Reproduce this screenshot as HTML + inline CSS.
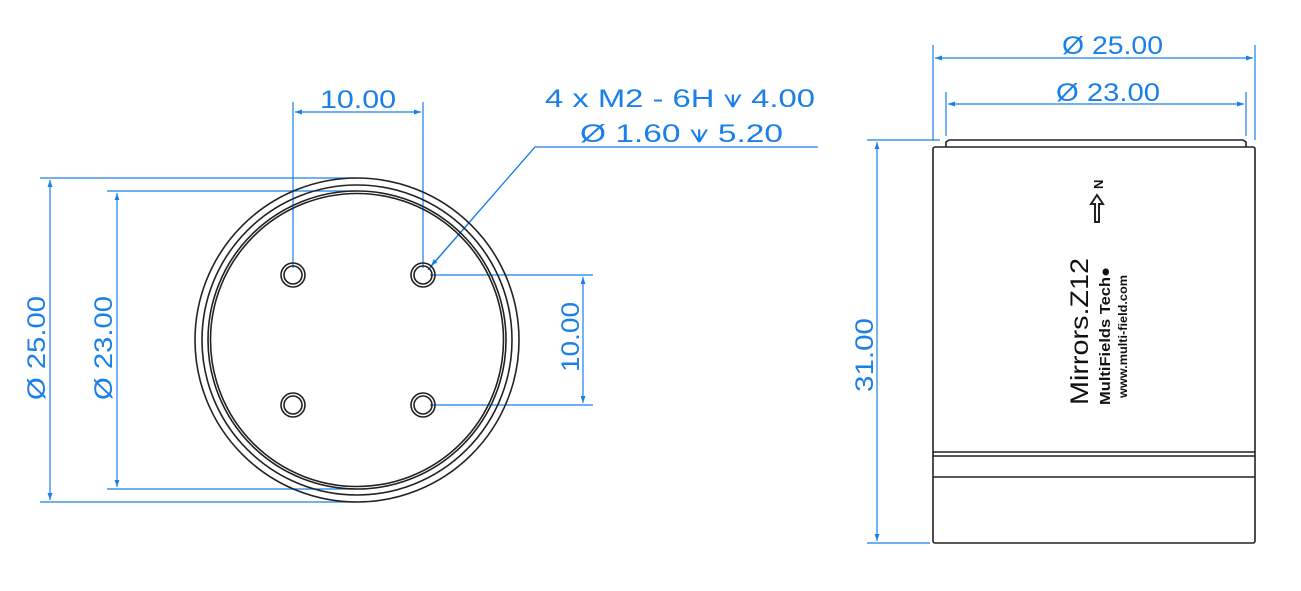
<!DOCTYPE html>
<html><head><style>body{margin:0;background:#fff}svg{display:block}</style></head><body>
<svg width="1301" height="591" viewBox="0 0 1301 591" font-family="Liberation Sans, sans-serif">
<defs>
<marker id="a" viewBox="0 0 10 10" refX="10" refY="5" markerWidth="12" markerHeight="7" orient="auto-start-reverse" markerUnits="userSpaceOnUse"><path d="M0,1.5L10,5L0,8.5z" fill="#1a7fe8"/></marker>
</defs>
<g fill="none" stroke="#1a7fe8" stroke-width="1.2">
<line x1="40" y1="178" x2="357" y2="178"/><line x1="40" y1="502" x2="357" y2="502"/>
<line x1="50" y1="180" x2="50" y2="500" marker-start="url(#a)" marker-end="url(#a)"/>
<line x1="107" y1="191" x2="357" y2="191"/><line x1="107" y1="489" x2="357" y2="489"/>
<line x1="117" y1="193" x2="117" y2="487" marker-start="url(#a)" marker-end="url(#a)"/>
<line x1="293" y1="102" x2="293" y2="268"/><line x1="423" y1="102" x2="423" y2="268"/>
<line x1="295" y1="112" x2="421" y2="112" marker-start="url(#a)" marker-end="url(#a)"/>
<line x1="430" y1="275" x2="593" y2="275"/><line x1="430" y1="405" x2="593" y2="405"/>
<line x1="583" y1="277" x2="583" y2="403" marker-start="url(#a)" marker-end="url(#a)"/>
<polyline points="818,147 535,147 428,270"/>
<line x1="535" y1="147" x2="431" y2="266" marker-end="url(#a)"/>
<line x1="933" y1="45" x2="933" y2="140"/><line x1="1255" y1="45" x2="1255" y2="140"/>
<line x1="935" y1="58" x2="1253" y2="58" marker-start="url(#a)" marker-end="url(#a)"/>
<line x1="946" y1="92" x2="946" y2="136"/><line x1="1246" y1="92" x2="1246" y2="136"/>
<line x1="948" y1="104" x2="1244" y2="104" marker-start="url(#a)" marker-end="url(#a)"/>
<line x1="867" y1="140" x2="940" y2="140"/><line x1="867" y1="543" x2="930" y2="543"/>
<line x1="877" y1="142" x2="877" y2="541" marker-start="url(#a)" marker-end="url(#a)"/>
</g>
<g fill="#1a7fe8" font-size="25">
<text x="320" y="108" textLength="76" lengthAdjust="spacingAndGlyphs">10.00</text>
<text x="1062" y="54" textLength="101" lengthAdjust="spacingAndGlyphs">Ø 25.00</text>
<text x="1056" y="101" textLength="104" lengthAdjust="spacingAndGlyphs">Ø 23.00</text>
<text x="545" y="107" textLength="270" lengthAdjust="spacingAndGlyphs">4 x  M2 - 6H ⩛ 4.00</text>
<text x="580" y="142" textLength="203" lengthAdjust="spacingAndGlyphs">Ø  1.60 ⩛ 5.20</text>
<text transform="translate(45,400) rotate(-90)" textLength="104" lengthAdjust="spacingAndGlyphs">Ø 25.00</text>
<text transform="translate(112,400) rotate(-90)" textLength="104" lengthAdjust="spacingAndGlyphs">Ø 23.00</text>
<text transform="translate(579,372) rotate(-90)" textLength="70" lengthAdjust="spacingAndGlyphs">10.00</text>
<text transform="translate(873,392) rotate(-90)" textLength="74" lengthAdjust="spacingAndGlyphs">31.00</text>
</g>
<g fill="none" stroke="#222" stroke-width="1.6">
<circle cx="357" cy="340" r="162"/><circle cx="357" cy="340" r="155"/>
<circle cx="357" cy="340" r="149"/><circle cx="357" cy="340" r="146.5"/>
<circle cx="293" cy="275" r="12"/><circle cx="293" cy="275" r="9"/>
<circle cx="423" cy="275" r="12"/><circle cx="423" cy="275" r="9"/>
<circle cx="293" cy="405" r="12"/><circle cx="293" cy="405" r="9"/>
<circle cx="423" cy="405" r="12"/><circle cx="423" cy="405" r="9"/>
<rect x="933" y="147" width="322" height="396" rx="2"/>
<path d="M946,147 L946,142 L949,140 L1243,140 L1246,142 L1246,147"/>
<line x1="933" y1="452" x2="1255" y2="452"/><line x1="933" y1="456" x2="1255" y2="456"/>
<line x1="933" y1="477" x2="1255" y2="477"/>
<path d="M1095,222 L1095,204 L1091,204 L1097,195 L1103,204 L1099,204 L1099,222 Z" stroke-width="2"/>
</g>
<g fill="#111">
<text transform="translate(1103,189) rotate(-90)" font-size="13" font-weight="bold">N</text>
<text transform="translate(1088,405) rotate(-90)" font-size="25" textLength="147" lengthAdjust="spacingAndGlyphs">Mirrors.Z12</text>
<text transform="translate(1110,405) rotate(-90)" font-size="15" font-weight="bold" textLength="138" lengthAdjust="spacingAndGlyphs">MultiFields Tech●</text>
<text transform="translate(1127,398) rotate(-90)" font-size="12" font-weight="bold" textLength="123" lengthAdjust="spacingAndGlyphs">www.multi-field.com</text>
</g>
</svg>
</body></html>
